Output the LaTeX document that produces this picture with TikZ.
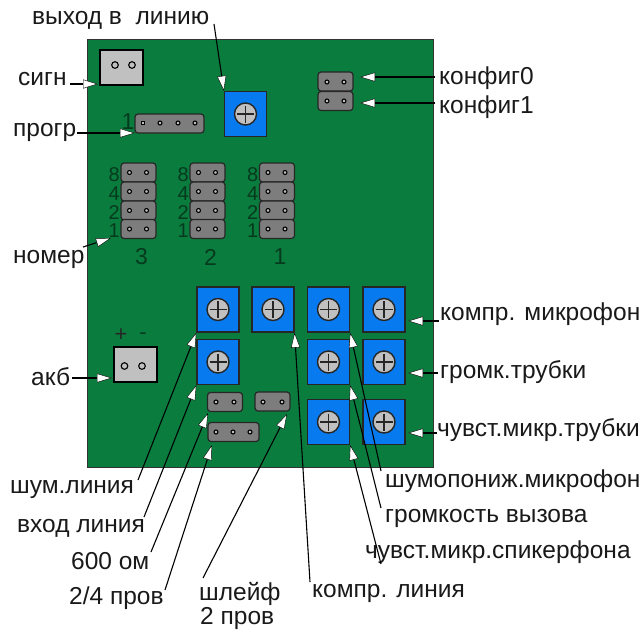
\documentclass[tikz,border=0pt]{standalone}
\usepackage{fontspec}
\setmainfont{Liberation Sans}
\usetikzlibrary{arrows.meta}
\definecolor{boardgreen}{RGB}{10, 125, 62}
\definecolor{potblue}{RGB}{8, 122, 240}
\definecolor{jumpergray}{RGB}{125, 125, 125}
\definecolor{knobgray}{RGB}{192, 192, 192}
\definecolor{silkgreen}{RGB}{6, 58, 30}
\tikzset{
  lbl/.style={anchor=west, inner sep=0pt, text=black!90, font=\fontsize{24.5}{26}\selectfont},
  silk/.style={inner sep=0pt, text=silkgreen, font=\fontsize{20}{22}\selectfont},
  potbox/.style={draw=black!85, fill=potblue, line width=1.2pt, minimum width=42pt, minimum height=45pt, inner sep=0pt},
  jumper/.style={draw=black!85, fill=jumpergray, line width=1.2pt, rounded corners=3pt, minimum width=35pt, minimum height=19pt, inner sep=0pt},
  socket/.style={draw=black, fill=knobgray, line width=1.4pt, minimum width=43pt, minimum height=35pt, inner sep=0pt},
  pin/.style={draw=black, fill=knobgray, line width=1.1pt},
  leader/.style={draw=black, line width=1.1pt, -{Triangle[fill=white, length=15pt, width=9pt, line width=0.4pt]}},
}
\begin{document}
\begin{tikzpicture}[x=1pt, y=-1pt]
    \useasboundingbox (0,0) rectangle (643,630);
    \node[draw=black!80, fill=boardgreen, line width=1pt, minimum width=346pt, minimum height=428pt, inner sep=0pt] (board) at (260,253) {};

    % sockets
    \node[socket] (signal) at (121.5,67.5) {};
    \node[socket] (battery) at (135.5,364.5) {};
    \foreach \x in {115,132} {
      \filldraw[pin] (\x,65) circle (3.3);
    }
    \foreach \x in {124.5,142} {
      \filldraw[pin] (\x,366) circle (3.3);
    }
    \node[silk, text=black!85, font=\fontsize{22}{24}\selectfont] (plus) at (121,335) {+};
    \node[silk, font=\fontsize{22}{24}\selectfont] (minus) at (143,336) {-};

    % trimmers
    \foreach \name/\x/\y in {potout/245.5/114, potnoise/218/309.5, potcomp/273/309.5, potmicvol/328.5/309.5, potmic/384/309.5,
        potinput/218/362, potcall/328.5/362, pothand/384/362, potspeak/328.5/422, potsens/384/422} {
      \node[potbox] (\name) at (\x,\y) {};
      \filldraw[draw=black!85, fill=knobgray, line width=1.4pt] (\x,\y) circle (11);
      \draw[black!85, line width=1.1pt] (\x-8.5,\y) -- (\x+8.5,\y);
      \draw[black!85, line width=1.1pt] (\x,\y-8.5) -- (\x,\y+8.5);
    }

    % address jumpers
    \foreach \col/\x/\n in {c/138.5/3, b/207.5/2, a/277/1} {
      \foreach \row/\y/\d in {8/172.5/8, 4/191.5/4, 2/210.5/2, 1/229/1} {
        \node[jumper] (j\col\row) at (\x,\y) {};
        \filldraw[pin] (\x-9,\y) circle (2);
        \filldraw[pin] (\x+8,\y) circle (2);
        \node[silk, anchor=east] (d\col\row) at (\x-18.5,\y+2) {\d};
      }
      \node[silk, font=\fontsize{23}{24}\selectfont] (n\col) at (\x+3,257) {\n};
    }

    % other jumpers
    \node[jumper] (conf0) at (335.5,81.5) {};
    \node[jumper] (conf1) at (335.5,101) {};
    \node[jumper] (lineimp) at (225,402) {};
    \node[jumper] (loop) at (272.5,401.5) {};
    \node[jumper, minimum width=51pt] (wires) at (233.5,432) {};
    \node[jumper, minimum width=69pt] (prog) at (169.5,123.5) {};
    \foreach \x/\y in {327/82, 344/82, 327/101, 344/101, 216/402, 234/402, 263/402, 282/402, 216/432, 233/432, 250/432, 160/123, 178/123, 195/123} {
      \filldraw[pin] (\x,\y) circle (2);
    }
    \filldraw[pin] (141.5,121.5) rectangle (144.5,124.5);
    \node[silk, font=\fontsize{23}{24}\selectfont] (progone) at (128,122) {1};

    % labels
    \node[lbl] (lout) at (32,20) {выход в\ \ линию};
    \node[lbl] (lsign) at (18,79) {сигн};
    \node[lbl] (lprog) at (13,132) {прогр};
    \node[lbl] (lnum) at (13,259) {номер};
    \node[lbl] (lbat) at (31,377) {акб};
    \node[lbl] (lconf0) at (439,78) {конфиг0};
    \node[lbl] (lconf1) at (439,107) {конфиг1};
    \node[lbl] (lmic) at (440,314) {компр. микрофон};
    \node[lbl] (lhand) at (440,372) {громк.трубки};
    \node[lbl] (lsens) at (437,430) {чувст.микр.трубки};
    \node[lbl] (lnoise) at (10,490) {шум.линия};
    \node[lbl] (linput) at (17,528) {вход линия};
    \node[lbl] (limp) at (71,561) {600 ом};
    \node[lbl] (lwires) at (69,598) {2/4 пров};
    \node[lbl] (lloop) at (199,594) {шлейф};
    \node[lbl] (lloop2) at (200,618) {2 пров};
    \node[lbl] (lcomp) at (312,593) {компр. линия};
    \node[lbl] (lmicvol) at (385,481) {шумопониж.микрофон};
    \node[lbl] (lcall) at (385,518) {громкость вызова};
    \node[lbl] (lspeak) at (365,552) {чувст.микр.спикерфона};

    % free ends of the leaders
    \coordinate (sout) at (214,24);
    \coordinate (ssign) at (70,84);
    \coordinate (tsign) at (98,84);
    \coordinate (sprog) at (77,133);
    \coordinate (tprog) at (135,133);
    \coordinate (snum) at (83,247);
    \coordinate (tnum) at (111,238);
    \coordinate (sbat) at (72,378);
    \coordinate (tbat) at (112,378);
    \coordinate (snoise) at (138,480);
    \coordinate (sinput) at (144,517);
    \coordinate (simp) at (151,552);
    \coordinate (swires) at (165,590);
    \coordinate (sloop) at (203,578);
    \coordinate (scomp) at (310,582);
    \coordinate (smicvol) at (381,471);
    \coordinate (scall) at (381,508);
    \coordinate (sspeak) at (381,564);
    \coordinate (sconf0) at (435,77);
    \coordinate (sconf1) at (435,103);
    \coordinate (tconf0) at (360,77);
    \coordinate (tconf1) at (360,103);
    \coordinate (smic) at (439,321);
    \coordinate (shand) at (438,373);
    \coordinate (ssens) at (437,433);
    \coordinate (tmic) at (408,321);
    \coordinate (thand) at (408,373);
    \coordinate (tsens) at (408,433);
    \coordinate (timp) at (208,413);
    \coordinate (twires) at (212,445);
    \coordinate (tloop) at (287,414);

    % leaders
    \draw[leader] (sout) -- (potout.north west);
    \draw[leader] (ssign) -- (tsign);
    \draw[leader] (sprog) -- (tprog);
    \draw[leader] (snum) -- (tnum);
    \draw[leader] (sbat) -- (tbat);
    \draw[leader] (sconf0) -- (tconf0);
    \draw[leader] (sconf1) -- (tconf1);
    \draw[leader] (smic) -- (tmic);
    \draw[leader] (shand) -- (thand);
    \draw[leader] (ssens) -- (tsens);
    \draw[leader] (snoise) -- (potnoise.south west);
    \draw[leader] (sinput) -- (potinput.south west);
    \draw[leader] (simp) -- (timp);
    \draw[leader] (swires) -- (twires);
    \draw[leader] (sloop) -- (tloop);
    \draw[leader] (scomp) -- (potcomp.south east);
    \draw[leader] (smicvol) -- (potmicvol.south east);
    \draw[leader] (scall) -- (potcall.south east);
    \draw[leader] (sspeak) -- (potspeak.south east);
\end{tikzpicture}
\end{document}
